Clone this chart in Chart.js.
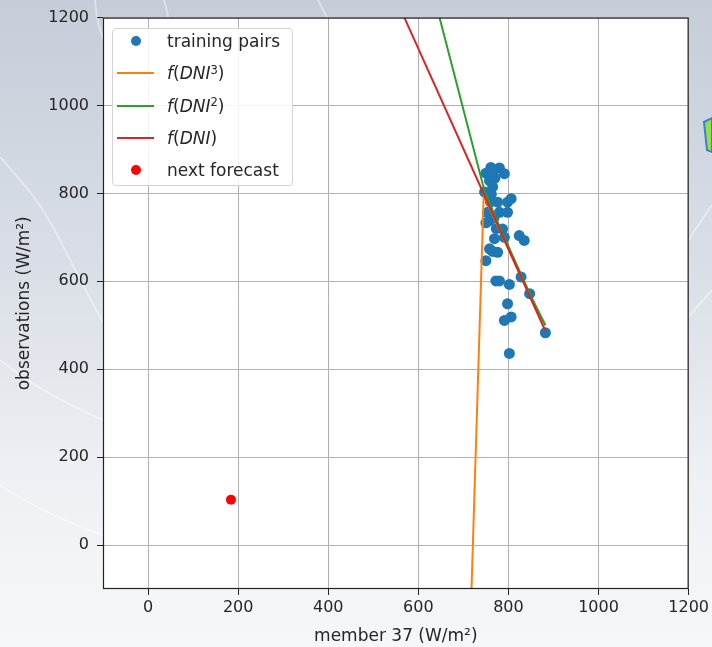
<!DOCTYPE html>
<html>
<head>
<meta charset="utf-8">
<script src="https://cdn.jsdelivr.net/npm/chart.js@4.4.0/dist/chart.umd.min.js"></script>
<style>
  body { margin: 0; width: 712px; height: 647px; overflow: hidden;
         background: linear-gradient(to bottom, #c6cdd9 0%, #d9dee6 40%, #eef1f4 75%, #f6f7f9 100%);
         font-family: 'DejaVu Sans', sans-serif; }
  #wrap { position: relative; width: 712px; height: 647px; }
  #deco { position: absolute; left: 0; top: 0; }
  canvas { position: absolute; left: 0; top: 0; }
  #legend { position: absolute; left: 112px; top: 28px; width: 179px; height: 156px;
            border: 1px solid #d4d4d4; border-radius: 4px; background: rgba(255,255,255,0.85); }
  .row { position: absolute; left: 0; width: 100%; height: 20px; line-height: 20px;
         font-size: 17px; color: #262626; white-space: nowrap; }
  .row .txt { position: absolute; left: 54px; top: 0; }
  .row .dot { position: absolute; left: 18px; top: 5px; width: 10px; height: 10px; border-radius: 50%; }
  .row .ln { position: absolute; left: 4px; top: 9px; width: 37px; height: 2px; }
  sup { font-size: 68%; vertical-align: baseline; position: relative; top: -0.5em; font-style: normal; }
</style>
</head>
<body>
<div id="wrap">
  <svg id="deco" width="712" height="647">
    <g fill="none" stroke="rgba(255,255,255,0.4)" stroke-width="2">
      <path d="M95,0 C96,20 100,40 127,83" />
      <path d="M0,157 C20,180 40,200 60,240 C75,270 90,300 103,322" />
      <path d="M0,360 C20,375 45,395 103,420" />
      <path d="M0,485 C30,505 60,520 103,535" />
      <path d="M164,0 C166,6 167,12 168,17" />
      <path d="M318,0 C321,6 324,12 327,17" />
      <path d="M712,205 C703,218 696,228 689,240" />
      <path d="M712,290 C703,300 696,308 689,316" />
    </g>
    <polygon points="704,122 712,118 712,152 707,150" fill="#8fe04c" stroke="#3a7fd0" stroke-width="2" />
  </svg>
  <canvas id="chart" width="712" height="647"></canvas>
  <div id="legend"></div>
</div>
<script>
// training pairs (member 37 vs observations)
const trainX = [761, 780, 791, 750, 758, 770, 765, 747, 762, 776, 806, 798, 780, 798, 754, 758, 768, 750, 787, 769,
                791, 824, 835, 758, 776, 765, 750, 772, 780, 802, 828, 847, 798, 791, 806, 882, 802, 760, 773, 766];
const trainY = [859, 858, 845, 846, 829, 835, 815, 803, 798, 780, 788, 780, 757, 757, 757, 738, 745, 733, 719, 697,
                700, 704, 693, 674, 666, 668, 647, 601, 601, 593, 610, 572, 549, 511, 519, 483, 436, 780, 720, 850];

const forecastX = [184];
const forecastY = [103];

// fitted curves, as drawn (clipped at the plot edges)
const fit3X = [718, 745, 780, 820, 860, 882];
const fit3Y = [-100, 795, 718, 628, 540, 500];
const fit2X = [647, 747, 780, 820, 850, 882];
const fit2Y = [1200, 805, 725, 634, 566, 500];
const fit1X = [569, 882];
const fit1Y = [1200, 487];

const xTicks = [0, 200, 400, 600, 800, 1000, 1200];
const yTicks = [0, 200, 400, 600, 800, 1000, 1200];

const seriesLabels = ['training pairs', 'f(DNI³)', 'f(DNI²)', 'f(DNI)', 'next forecast'];
const seriesColors = ['#1f77b4', '#ff7f0e', '#2ca02c', '#d62728', '#ff0000'];

const pts = (xs, ys) => xs.map((x, i) => ({ x: x, y: ys[i] }));

const plotFrame = {
  id: 'plotFrame',
  beforeDraw(chart) {
    const { ctx, chartArea: a } = chart;
    ctx.save();
    ctx.fillStyle = '#ffffff';
    ctx.fillRect(a.left, a.top, a.right - a.left, a.bottom - a.top);
    ctx.restore();
  },
  afterDatasetsDraw(chart) {
    const { ctx, chartArea: a } = chart;
    ctx.save();
    ctx.strokeStyle = '#222';
    ctx.lineWidth = 1.2;
    ctx.strokeRect(a.left + 0.5, a.top + 0.5, a.right - a.left - 1, a.bottom - a.top - 1);
    ctx.restore();
  }
};

const tickFont = { family: 'DejaVu Sans', size: 16 };
const titleFont = { family: 'DejaVu Sans', size: 17 };

new Chart(document.getElementById('chart'), {
  type: 'scatter',
  data: {
    datasets: [
      { label: seriesLabels[0], data: pts(trainX, trainY), backgroundColor: seriesColors[0],
        borderWidth: 0, pointRadius: 5.5, order: 5 },
      { label: seriesLabels[1], data: pts(fit3X, fit3Y), borderColor: seriesColors[1], showLine: true,
        pointRadius: 0, borderWidth: 2, order: 4 },
      { label: seriesLabels[2], data: pts(fit2X, fit2Y), borderColor: seriesColors[2], showLine: true,
        pointRadius: 0, borderWidth: 2, order: 3 },
      { label: seriesLabels[3], data: pts(fit1X, fit1Y), borderColor: seriesColors[3], showLine: true,
        pointRadius: 0, borderWidth: 2, order: 2 },
      { label: seriesLabels[4], data: pts(forecastX, forecastY), backgroundColor: seriesColors[4],
        borderWidth: 0, pointRadius: 5, order: 1 }
    ]
  },
  options: {
    responsive: false,
    animation: false,
    events: [],
    layout: { padding: { top: 17, right: 23, left: 0, bottom: 0 } },
    plugins: { legend: { display: false }, tooltip: { enabled: false } },
    scales: {
      x: {
        type: 'linear', min: -100, max: 1200,
        afterBuildTicks: s => { s.ticks = xTicks.map(v => ({ value: v })); },
        afterFit: s => { s.height = 58; },
        grid: { color: '#b0b0b0', lineWidth: 1, tickLength: 6, tickColor: '#222' },
        border: { display: false },
        ticks: { font: tickFont, color: '#262626', padding: 3, maxRotation: 0, callback: v => String(v) },
        title: { display: true, text: 'member 37 (W/m²)', font: titleFont, color: '#262626',
                 padding: { top: 0, bottom: 0 } }
      },
      y: {
        type: 'linear', min: -100, max: 1200,
        afterBuildTicks: s => { s.ticks = yTicks.map(v => ({ value: v })); },
        afterFit: s => { s.width = 103; },
        grid: { color: '#b0b0b0', lineWidth: 1, tickLength: 6, tickColor: '#222' },
        border: { display: false },
        ticks: { font: tickFont, color: '#262626', padding: 8, callback: v => String(v) },
        title: { display: true, text: 'observations (W/m²)', font: titleFont, color: '#262626',
                 padding: { top: 14, bottom: 0 } }
      }
    }
  },
  plugins: [plotFrame]
});

// matplotlib-style legend inside the axes
const legend = document.getElementById('legend');
const mathText = s => s.replace(/^f/, '<i>f</i>').replace('DNI', '<i>DNI</i>')
                       .replace('³', '<sup>3</sup>').replace('²', '<sup>2</sup>');
seriesLabels.forEach((label, i) => {
  const row = document.createElement('div');
  row.className = 'row';
  row.style.top = (2 + i * 32.3) + 'px';
  const isLine = i >= 1 && i <= 3;
  const mark = isLine
    ? `<span class="ln" style="background:${seriesColors[i]}"></span>`
    : `<span class="dot" style="background:${seriesColors[i]}"></span>`;
  row.innerHTML = mark + `<span class="txt">${label.startsWith('f(') ? mathText(label) : label}</span>`;
  legend.appendChild(row);
});
</script>
</body>
</html>
